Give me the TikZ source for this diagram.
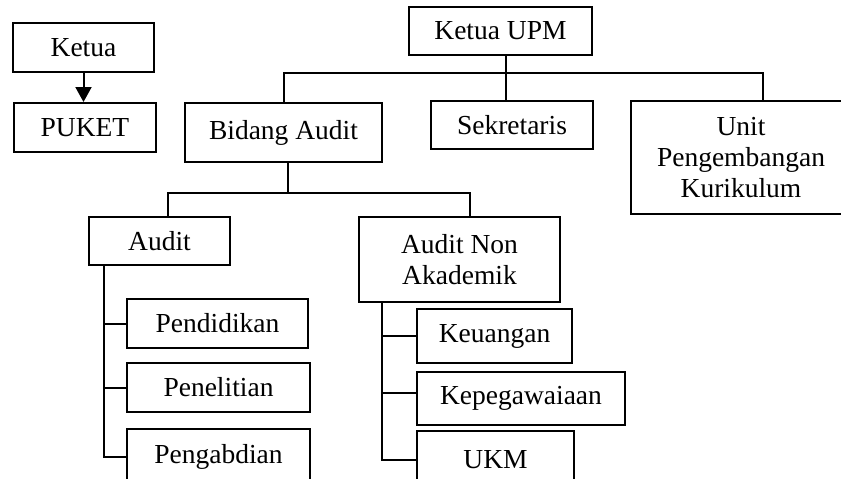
\documentclass[tikz,border=0pt]{standalone}
\usepackage{fontspec}
\setmainfont{Liberation Serif}
\usetikzlibrary{arrows.meta}
\begin{document}
\begin{tikzpicture}[x=1pt,y=-1pt,
  box/.style={draw, line width=2pt, inner sep=0pt, align=center,
    font=\fontsize{27.5}{31}\selectfont},
  link/.style={line width=2pt},
  arr/.style={line width=2pt, -{Triangle[width=16pt,length=15pt]}}]
\useasboundingbox (0,0) rectangle (841,479);
\clip (0,0) rectangle (841,479);
% boxes
\node[box, minimum width=141pt, minimum height=49pt] (ketua) at (83.5,47.5) {Ketua};
\node[box, minimum width=142pt, minimum height=49pt] (puket) at (85,127.5) {PUKET};
\node[box, minimum width=183pt, minimum height=48pt] (kupm) at (500.5,31) {Ketua UPM};
\node[box, minimum width=197pt, minimum height=59pt] (bidang) at (283.5,132.5) {Bidang Audit};
\node[box, minimum width=162pt, minimum height=48pt] (sek) at (512,125) {Sekretaris};
\node[box, minimum width=220pt, minimum height=113pt] (unit) at (741,157.5) {Unit\\Pengembangan\\Kurikulum};
\node[box, minimum width=141pt, minimum height=48pt] (audit) at (159.5,241) {Audit};
\node[box, minimum width=201pt, minimum height=85pt] (anon) at (459.5,259.5) {Audit Non\\Akademik};
\node[box, minimum width=181pt, minimum height=49pt] (pend) at (217.5,323.5) {Pendidikan};
\node[box, minimum width=183pt, minimum height=49pt] (pene) at (218.5,387.5) {Penelitian};
\node[box, minimum width=183pt, minimum height=56pt] (peng) at (218.5,457) {Pengabdian};
\node[box, minimum width=155pt, minimum height=54pt] (keu) at (494.5,336) {Keuangan};
\node[box, minimum width=208pt, minimum height=53pt] (kepeg) at (521,398.5) {Kepegawaiaan};
\node[box, minimum width=157pt, minimum height=58pt] (ukm) at (495.5,460) {UKM};
% coordinates
\coordinate (busL) at (283.5,73);
\coordinate (busR) at (763,73);
\coordinate (bus2L) at (168,193);
\coordinate (bus2R) at (470,193);
\coordinate (sp1) at (104,265);
\coordinate (sp2) at (382,302);
% connectors
\draw[arr] (ketua.south) -- (ketua.south |- puket.north);
\draw[link] ([xshift=5.5pt]kupm.south) -- ([xshift=5.5pt]kupm.south |- sek.north);
\draw[link] (bidang.north) -- (busL) -- (busR) -- (busR |- unit.north);
\draw[link] ([xshift=4.5pt]bidang.south) -- ([xshift=4.5pt]bidang.south |- bus2L);
\draw[link] (audit.north -| bus2L) -- (bus2L) -- (bus2R) -- (anon.north -| bus2R);
\draw[link] (sp1) -- (sp1 |- peng.west) -- (peng.west);
\draw[link] (sp1 |- pend.west) -- (pend.west);
\draw[link] (sp1 |- pene.west) -- (pene.west);
\draw[link] (sp2) -- (sp2 |- ukm.west) -- (ukm.west);
\draw[link] (sp2 |- keu.west) -- (keu.west);
\draw[link] ([yshift=5.5pt]kepeg.west -| sp2) -- ([yshift=5.5pt]kepeg.west);
\end{tikzpicture}
\end{document}
